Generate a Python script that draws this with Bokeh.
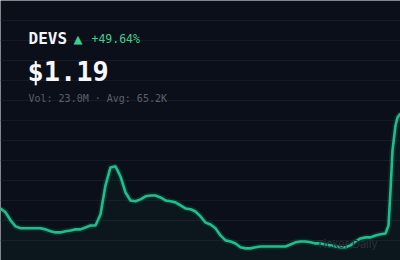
import numpy as np
from bokeh.plotting import figure
from bokeh.models import Label, FixedTicker, Range1d
from bokeh.embed import file_html
from bokeh.resources import INLINE

ticker = "DEVS"
change_pct = "+49.64%"
last_price = "$1.19"
volume_text = "Vol: 23.0M · Avg: 65.2K"
watermark = "Ticker Daily"

t = [0, 5, 10, 15, 20, 25, 30, 35, 40, 45, 50, 55, 60, 65, 70, 75, 80, 85, 90, 95,
     100, 105, 110, 115, 120, 125, 130, 135, 140, 145, 150, 155, 160, 165, 170, 175,
     180, 185, 190, 195, 200, 205, 210, 215, 220, 225, 230, 235, 240, 245, 250, 255,
     260, 265, 270, 275, 280, 285, 290, 295, 300, 305, 310, 315, 320, 325, 330, 335,
     340, 345, 350, 355, 360, 365, 370, 375, 380, 385, 388, 390, 392, 395, 397, 400]
price = [0.845, 0.831, 0.802, 0.780, 0.773, 0.773, 0.773, 0.773, 0.773, 0.769,
         0.762, 0.758, 0.758, 0.762, 0.765, 0.769, 0.769, 0.776, 0.783, 0.783,
         0.823, 0.929, 0.994, 0.998, 0.961, 0.903, 0.874, 0.871, 0.878, 0.889,
         0.892, 0.892, 0.885, 0.874, 0.871, 0.867, 0.856, 0.845, 0.842, 0.834,
         0.816, 0.794, 0.787, 0.773, 0.747, 0.729, 0.725, 0.718, 0.704, 0.700,
         0.700, 0.704, 0.707, 0.707, 0.707, 0.707, 0.707, 0.707, 0.714, 0.722,
         0.725, 0.725, 0.722, 0.718, 0.718, 0.714, 0.711, 0.707, 0.704, 0.704,
         0.711, 0.725, 0.736, 0.740, 0.740, 0.747, 0.751, 0.754, 0.783, 0.910,
         1.056, 1.146, 1.175, 1.190]

BG = "#0b0f19"
GREEN = "#1cc08c"
Y0, Y1 = 0.656, 1.600

p = figure(width=400, height=260, output_backend="svg", toolbar_location=None,
           x_range=Range1d(0, 400), y_range=Range1d(Y0, Y1), min_border=0,
           background_fill_color=BG, border_fill_color=BG, outline_line_color=None)
p.axis.visible = False
p.xgrid.visible = False
p.ygrid.ticker = FixedTicker(ticks=list(np.linspace(Y1, Y0, 14)[1:13]))
p.ygrid.grid_line_color = "#161b27"
p.ygrid.grid_line_width = 1

floor = [Y0] * len(t)
p.varea(x=t, y1=floor, y2=price, fill_color=GREEN, fill_alpha=0.04)
p.line(t, price, line_color=GREEN, line_width=6, line_alpha=0.14)
p.line(t, price, line_color=GREEN, line_width=2.6, line_alpha=1.0)

mono = "DejaVu Sans Mono"
p.add_layout(Label(x=28, y=222, x_units="screen", y_units="screen", text=ticker,
                   text_font=mono, text_font_style="bold", text_font_size="16px",
                   text_color="#f2f4f7", text_baseline="alphabetic"))
p.add_layout(Label(x=73, y=222, x_units="screen", y_units="screen", text="▲",
                   text_font=mono, text_font_size="15px",
                   text_color="#3ecf8e", text_baseline="alphabetic"))
p.add_layout(Label(x=91, y=222, x_units="screen", y_units="screen", text=change_pct,
                   text_font=mono, text_font_size="11.5px",
                   text_color="#3ecf8e", text_baseline="alphabetic"))
p.add_layout(Label(x=27, y=189, x_units="screen", y_units="screen", text=last_price,
                   text_font=mono, text_font_style="bold", text_font_size="27px",
                   text_color="#f7f8fa", text_baseline="alphabetic"))
p.add_layout(Label(x=28, y=162, x_units="screen", y_units="screen", text=volume_text,
                   text_font=mono, text_font_size="10px",
                   text_color="#5a606c", text_baseline="alphabetic"))
p.add_layout(Label(x=316, y=17, x_units="screen", y_units="screen", text=watermark,
                   text_font="Inter", text_font_size="11px",
                   text_color="#2b303b", text_baseline="alphabetic"))

open("out.html", "w").write(file_html(p, INLINE))
